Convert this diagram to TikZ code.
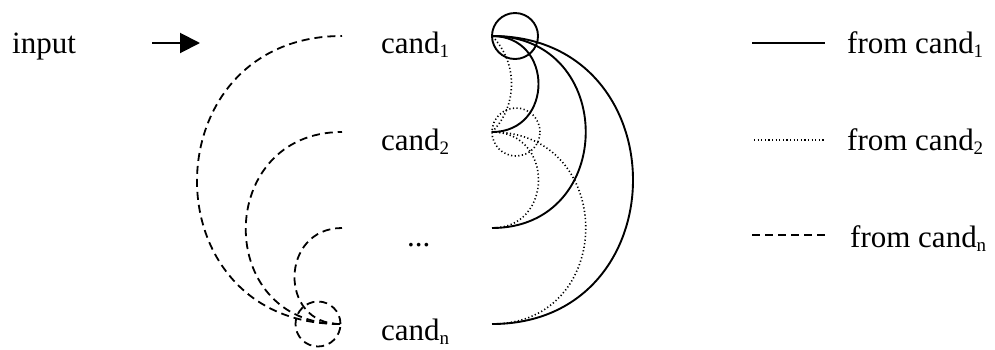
\documentclass[tikz,border=0pt]{standalone}
\usepackage{fontspec}
\setmainfont{Liberation Serif}
\usetikzlibrary{arrows.meta}
\newcommand\candsub[1]{\raisebox{-4.5pt}{\fontsize{19}{19}\selectfont #1}}
\begin{document}
\begin{tikzpicture}[x=1pt,y=-1pt,
  lbl/.style={anchor=base west, inner sep=0pt, font=\fontsize{31}{36}\selectfont},
  solidarc/.style={line width=1.9pt},
  dotarc/.style={line width=1.6pt, dash pattern=on 1.2pt off 2.4pt},
  dasharc/.style={line width=1.8pt, dash pattern=on 8pt off 5pt}]
\useasboundingbox (0,0) rectangle (995,349);
% labels
\node[lbl] (input) at (12,53) {input};
\node[lbl] (c1) at (381,53) {cand\candsub{1}};
\node[lbl] (c2) at (381,150) {cand\candsub{2}};
\node[lbl] (c3) at (407,246) {...};
\node[lbl] (cn) at (381,340) {cand\candsub{n}};
\node[lbl] (f1) at (847,53) {from cand\candsub{1}};
\node[lbl] (f2) at (847,150) {from cand\candsub{2}};
\node[lbl] (fn) at (850,247) {from cand\candsub{n}};
% input arrow
\coordinate (a0) at (152,43);
\coordinate (a1) at (200,43);
\draw[line width=2pt, -{Triangle[length=20pt,width=20pt]}] (a0) -- (a1);
% arc end points
\coordinate (r1) at (492,36);
\coordinate (r2) at (492,132);
\coordinate (r3) at (492,228);
\coordinate (rn) at (492,324);
\coordinate (l1) at (342,36);
\coordinate (l2) at (342,132);
\coordinate (l3) at (342,228);
\coordinate (ln) at (340,324);
% from cand1 (solid)
\draw[solidarc] ([xshift=23pt]r1) circle[radius=23pt];
\draw[solidarc] (r1) .. controls +(62,0) and +(62,0) .. (r2);
\draw[solidarc] (r1) .. controls +(125,0) and +(125,0) .. (r3);
\draw[solidarc] (r1) .. controls +(188,0) and +(188,0) .. (rn);
% from cand2 (dotted)
\draw[dotarc] ([xshift=24pt]r2) circle[radius=24pt];
\draw[dotarc] (r2) .. controls +(26,-26) and +(26,26) .. (r1);
\draw[dotarc] (r2) .. controls +(62,0) and +(62,0) .. (r3);
\draw[dotarc] (r2) .. controls +(125,0) and +(125,0) .. (rn);
% from candn (dashed)
\draw[dasharc] ([xshift=-22pt]ln) circle[radius=22.5pt];
\draw[dasharc] (ln) .. controls +(-192,0) and +(-192,0) .. (l1);
\draw[dasharc] (ln) .. controls +(-127,0) and +(-127,0) .. (l2);
\draw[dasharc] (ln) .. controls +(-62,0) and +(-62,0) .. (l3);
% legend
\coordinate (s0) at (752,43);
\coordinate (s1) at (825,43);
\coordinate (d0) at (754,140);
\coordinate (d1) at (825,140);
\coordinate (h0) at (752,235);
\coordinate (h1) at (825,235);
\draw[solidarc] (s0) -- (s1);
\draw[dotarc] (d0) -- (d1);
\draw[dasharc] (h0) -- (h1);
\end{tikzpicture}
\end{document}
